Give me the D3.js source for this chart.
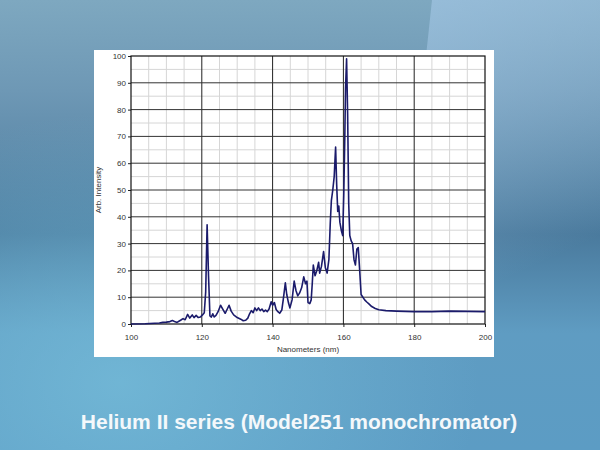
<!DOCTYPE html>
<html><head><meta charset="utf-8">
<script src="https://cdn.jsdelivr.net/npm/d3@7"></script>
<style>html,body{margin:0;padding:0;overflow:hidden;}svg{display:block;}</style>
</head><body>
<svg id="c" width="600" height="450"></svg>
<script>
const wavelength = [100,104,108,109,110,111,111.7,112.5,113,114,114.7,115.3,116,116.6,117.3,117.8,118.4,119,119.6,120.2,120.7,121.1,121.5,121.9,122.3,122.7,123.1,123.5,124,124.6,125.3,126,126.6,127.2,127.7,128.3,129,130,131,131.7,132.4,133,133.5,134,134.5,135,135.5,136,136.5,137,137.5,138,138.5,139,139.6,140,140.5,141,141.5,142,142.6,143,143.6,144,144.5,144.9,145.5,146.1,146.6,147.1,147.6,148.2,148.8,149.3,149.7,150,150.5,150.9,151.2,151.5,152,152.5,153,153.3,153.8,154.4,154.9,155.4,155.9,156.3,156.6,157,157.4,157.8,158.1,158.4,158.7,159,159.4,159.8,160.1,160.4,160.6,160.9,161.2,161.5,161.8,162.2,162.6,163,163.4,163.8,164.2,164.6,165,165.5,166,166.6,167.2,168,169,170,172,175,180,185,190,195,200];
const intensity = [0,0.1,0.4,0.6,0.7,0.9,1.3,0.8,0.6,1.4,2,1.6,3.6,2.2,3.4,2.4,3.2,2.4,2.6,3.4,4.2,12,37,18,3,2.6,3.8,2.6,3.2,4.6,7,5.4,4,5.6,7,4.8,3.4,2.4,1.8,1.2,1.4,2.2,3.8,5,4.2,6,5,6,5,5.6,4.6,5.2,4.6,5.6,8.3,7,8,5.4,4.6,4,5.2,9,15.4,11,7.8,6,9,16,12.5,10.5,11.5,13.5,17.6,15,16,8,7.6,9,15,22,18,20,23,19,21.5,27,21,19,24,38,46,50,55,66,52,42,44,38,35,33,48,70,88,99,78,45,33,31,30,24,22,28,28.5,20,11,10,9,8.2,7.5,6.5,5.8,5.3,5,4.8,4.6,4.6,4.8,4.7,4.6];
const xTicks = [100,120,140,160,180,200];
const yTicks = [0,10,20,30,40,50,60,70,80,90,100];
const title = "Helium II series (Model251 monochromator)";
const xLabel = "Nanometers (nm)";
const yLabel = "Arb. Intensity";

const svg = d3.select("#c");
const defs = svg.append("defs");
const bg = defs.append("linearGradient").attr("id","bg").attr("x1",0).attr("y1",0).attr("x2",0).attr("y2",1);
[[0,"#7ea8c0"],[0.2,"#6e98b5"],[0.52,"#4a7a9d"],[0.74,"#5f9cc2"],[1,"#5c9cc4"]].forEach(s=>bg.append("stop").attr("offset",s[0]).attr("stop-color",s[1]));
const rg = defs.append("radialGradient").attr("id","glow").attr("cx",0.2).attr("cy",0.85).attr("r",0.6);
rg.append("stop").attr("offset",0).attr("stop-color","#78c0dc").attr("stop-opacity",0.7);
rg.append("stop").attr("offset",1).attr("stop-color","#78c0dc").attr("stop-opacity",0);
const tr = defs.append("linearGradient").attr("id","tr").attr("x1",0).attr("y1",0).attr("x2",0.3).attr("y2",1);
tr.append("stop").attr("offset",0).attr("stop-color","#a0c4e2").attr("stop-opacity",0.75);
tr.append("stop").attr("offset",1).attr("stop-color","#a0c4e2").attr("stop-opacity",0);

svg.append("rect").attr("width",600).attr("height",450).attr("fill","url(#bg)");
svg.append("rect").attr("width",600).attr("height",450).attr("fill","url(#glow)");
svg.append("path").attr("d","M432,0L600,0L600,300L400,300Z").attr("fill","url(#tr)");

// panel
svg.append("rect").attr("x",94).attr("y",50).attr("width",400).attr("height",307).attr("fill","#ffffff");

const x = d3.scaleLinear().domain([100,200]).range([131,485]);
const y = d3.scaleLinear().domain([0,100]).range([324,56]);

const g = svg.append("g");
g.selectAll(".mx").data(d3.range(105,200,5).filter(v=>v%20!==0)).join("line")
  .attr("x1",d=>x(d)).attr("x2",d=>x(d)).attr("y1",y(0)).attr("y2",y(100))
  .attr("stroke","#d6d6d6").attr("stroke-width",1);
g.selectAll(".my").data(d3.range(5,100,10)).join("line")
  .attr("y1",d=>y(d)).attr("y2",d=>y(d)).attr("x1",x(100)).attr("x2",x(200))
  .attr("stroke","#d6d6d6").attr("stroke-width",1);
g.selectAll(".Mx").data(xTicks.slice(1,-1)).join("line")
  .attr("x1",d=>x(d)).attr("x2",d=>x(d)).attr("y1",y(0)).attr("y2",y(100))
  .attr("stroke","#222").attr("stroke-width",1);
g.selectAll(".My").data(yTicks.slice(1,-1)).join("line")
  .attr("y1",d=>y(d)).attr("y2",d=>y(d)).attr("x1",x(100)).attr("x2",x(200))
  .attr("stroke","#333").attr("stroke-width",1);

const xa = svg.append("g").attr("transform",`translate(0,${y(0)})`)
  .call(d3.axisBottom(x).tickValues(xTicks).tickSize(3).tickPadding(7));
const ya = svg.append("g").attr("transform",`translate(${x(100)},0)`)
  .call(d3.axisLeft(y).tickValues(yTicks).tickSize(3).tickPadding(2));
[xa,ya].forEach(a=>{
  a.select(".domain").remove();
  a.selectAll("line").attr("stroke","#222");
  a.selectAll("text").attr("font-family","Liberation Sans, Arial, sans-serif").attr("font-size",8).attr("fill","#333");
});
svg.append("rect").attr("x",x(100)).attr("y",y(100)).attr("width",x(200)-x(100)).attr("height",y(0)-y(100))
  .attr("fill","none").attr("stroke","#111").attr("stroke-width",1.2);

const line = d3.line().x((d,i)=>x(wavelength[i])).y(d=>y(d));
svg.append("path").datum(intensity).attr("d",line)
  .attr("fill","none").attr("stroke","#1b1b6b").attr("stroke-width",1.6).attr("stroke-linejoin","round");

svg.append("text").attr("x",308).attr("y",352).attr("text-anchor","middle")
  .attr("font-family","Liberation Sans, Arial, sans-serif").attr("font-size",8).attr("fill","#333").text(xLabel);
svg.append("text").attr("transform","translate(101,190) rotate(-90)").attr("text-anchor","middle")
  .attr("font-family","Liberation Sans, Arial, sans-serif").attr("font-size",8).attr("fill","#333").text(yLabel);

svg.append("text").attr("x",299).attr("y",429).attr("text-anchor","middle")
  .attr("font-family","Liberation Sans, Arial, sans-serif").attr("font-weight","bold").attr("font-size",21)
  .attr("fill","#f4f8fb").text(title);
</script>
</body></html>
